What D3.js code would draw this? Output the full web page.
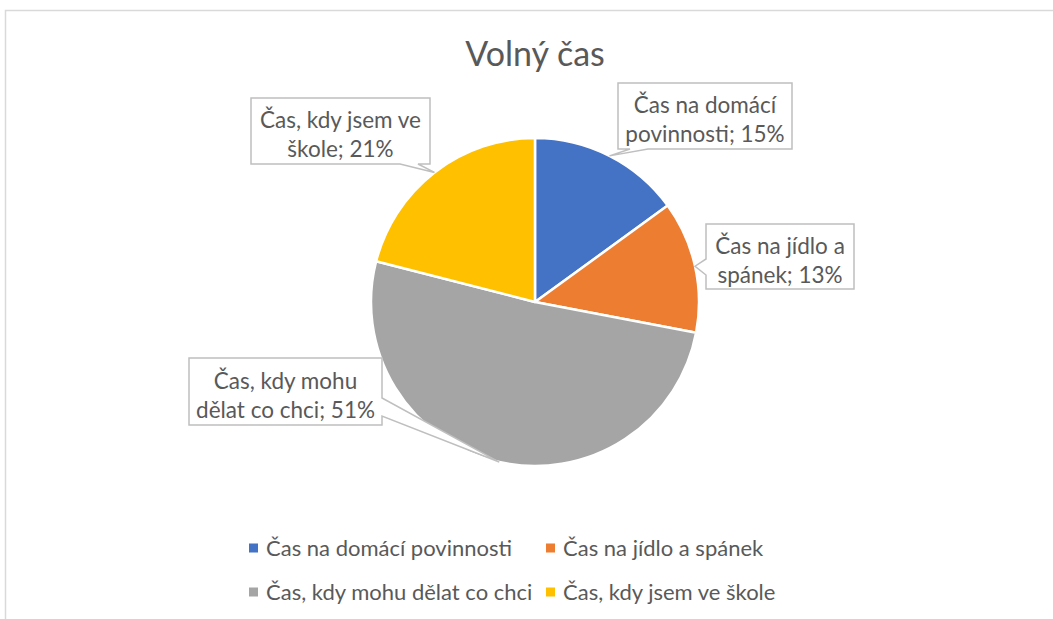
<!DOCTYPE html>
<html><head><meta charset="utf-8">
<script src="https://cdn.jsdelivr.net/npm/d3@7"></script>
<style>
html,body{margin:0;padding:0;background:#fff;}
svg{display:block;}
text{font-family:Lato,"Open Sans",sans-serif;fill:#595959;}
</style></head>
<body>
<svg id="chart" width="1053" height="619"></svg>
<script>
const title = "Volný čas";
const categories = ["Čas na domácí povinnosti","Čas na jídlo a spánek","Čas, kdy mohu dělat co chci","Čas, kdy jsem ve škole"];
const values = [15, 13, 51, 21];
const colors = ["#4472C4","#ED7D31","#A5A5A5","#FFC000"];
const labelLines = [["Čas na domácí","povinnosti; 15%"],["Čas na jídlo a","spánek; 13%"],["Čas, kdy mohu","dělat co chci; 51%"],["Čas, kdy jsem ve","škole; 21%"]];

const svg = d3.select("#chart");
const W = 1053, H = 619;
const cx = 535, cy = 302, R = 164;
const fsLabel = 22.5, fsLegend = 22;

// chart border
svg.append("rect").attr("x",5.5).attr("y",10.5).attr("width",W+10).attr("height",H+10)
  .attr("fill","none").attr("stroke","#d9d9d9").attr("stroke-width",1.5);

svg.append("text").attr("x",cx).attr("y",66).attr("text-anchor","middle")
  .style("font-size","34px").text(title);

const pie = d3.pie().sort(null).value(d=>d)(values);
const arc = d3.arc().innerRadius(0).outerRadius(R);
const edge = d3.arc().innerRadius(R).outerRadius(R);
const g = svg.append("g").attr("transform",`translate(${cx},${cy})`);
g.selectAll("path").data(pie).join("path")
  .attr("d",arc).attr("fill",(d,i)=>colors[i])
  .attr("stroke","#fff").attr("stroke-width",2.5).attr("stroke-linejoin","round");

// callout boxes
const boxes = [
  {x:618,y:83,w:174,h:66,side:"bottom",b:[630,648]},
  {x:706,y:224,w:148,h:65,side:"left",b:[259,275]},
  {x:189,y:358,w:193,h:67,side:"right",b:[398,416]},
  {x:251,y:98,w:179,h:66,side:"bottom",b:[400,418]}
];
boxes.forEach((bx,i)=>{
  const c = edge.centroid(pie[i]);
  const t = [cx+c[0], cy+c[1]];
  const {x,y,w,h,side,b} = bx;
  let p = d3.path();
  if(side==="bottom"){
    p.moveTo(x,y);p.lineTo(x+w,y);p.lineTo(x+w,y+h);p.lineTo(b[1],y+h);p.lineTo(t[0],t[1]);p.lineTo(b[0],y+h);p.lineTo(x,y+h);p.closePath();
  } else if(side==="left"){
    p.moveTo(x,y);p.lineTo(x+w,y);p.lineTo(x+w,y+h);p.lineTo(x,y+h);p.lineTo(x,b[1]);p.lineTo(t[0],t[1]);p.lineTo(x,b[0]);p.closePath();
  } else {
    p.moveTo(x,y);p.lineTo(x+w,y);p.lineTo(x+w,b[0]);p.lineTo(t[0],t[1]);p.lineTo(x+w,b[1]);p.lineTo(x+w,y+h);p.lineTo(x,y+h);p.closePath();
  }
  svg.append("path").attr("d",p.toString()).attr("fill","#fff").attr("stroke","#bfbfbf").attr("stroke-width",1.5);
  const tx = svg.append("text").attr("text-anchor","middle").style("font-size",fsLabel+"px");
  labelLines[i].forEach((ln,j)=>{
    tx.append("tspan").attr("x",x+w/2).attr("y",y+h/2-3+j*29).text(ln);
  });
});

// legend
const legPos = [[249,548],[546,548],[249,592],[546,592]];
categories.forEach((c,i)=>{
  const [lx,ly]=legPos[i];
  svg.append("rect").attr("x",lx).attr("y",ly-4.5).attr("width",9).attr("height",9).attr("fill",colors[i]);
  svg.append("text").attr("x",lx+17).attr("y",ly+8).style("font-size",fsLegend+"px").text(c);
});
</script>
</body></html>
